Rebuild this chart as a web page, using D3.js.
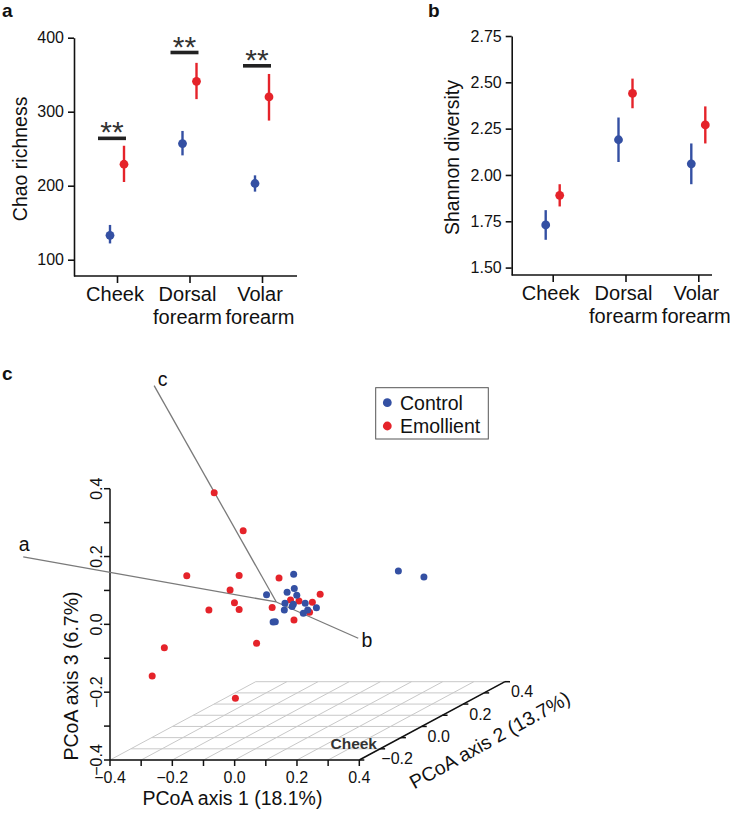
<!DOCTYPE html>
<html lang="en">
<head>
<meta charset="UTF-8">
<title>Emollient and skin bacterial diversity</title>
<script src="https://d3js.org/d3.v7.min.js"></script>
<style>
  body { margin: 0; padding: 0; background: #fff; }
  svg { display: block; font-family: "Liberation Sans", Arial, Helvetica, sans-serif; }
  .axis path, .axis line { stroke: #111; stroke-width: 1.6px; }
  .axis text { font-size: 16px; fill: #111; }
  .tk { font-size: 16px; fill: #111; }
  .cat { font-size: 20px; fill: #111; }
  .title { font-size: 19.5px; fill: #111; }
  .panel { font-size: 19px; font-weight: bold; fill: #111; }
  .grid { stroke: #c8c8c8; stroke-width: 1px; }
  .ax3 { stroke: #111; stroke-width: 1.5px; }
  .arrow { stroke: #7a7a7a; stroke-width: 1.3px; }
</style>
</head>
<body>
<svg id="fig" width="737" height="813"></svg>
<script>
// ---- data ----
const sites = ["Cheek", "Dorsal forearm", "Volar forearm"];

const chaoControl = [133, 257, 203];
const chaoControlLo = [122, 241, 192];
const chaoControlHi = [147, 274, 214];
const chaoEmollient = [229, 341, 320];
const chaoEmollientLo = [205, 317, 288];
const chaoEmollientHi = [254, 366, 351];
const chaoSigAt = [264, 380, 362];
const chaoTicks = [100, 200, 300, 400];

const shannonControl = [1.73, 2.19, 2.06];
const shannonControlLo = [1.65, 2.07, 1.95];
const shannonControlHi = [1.81, 2.31, 2.17];
const shannonEmollient = [1.89, 2.44, 2.27];
const shannonEmollientLo = [1.83, 2.36, 2.17];
const shannonEmollientHi = [1.95, 2.52, 2.37];
const shannonTicks = [1.5, 1.75, 2.0, 2.25, 2.5, 2.75];

// PCoA coordinates [axis1, axis2, axis3]
const controlPCoA = [
  [0.325, 0, 0.058], [0.407, 0, 0.041], [-0.011, 0, 0.049], [-0.098, 0, -0.012],
  [-0.009, 0, 0.007], [-0.032, 0, -0.004], [-0.001, 0, -0.013], [-0.039, 0, -0.037],
  [-0.012, 0, -0.040], [0.026, 0, -0.037], [0.062, 0, -0.050], [-0.041, 0, -0.057],
  [0.034, 0, -0.057], [0.020, 0, -0.066], [-0.077, 0, -0.092], [-0.070, 0, -0.091],
  [-0.016, 0, -0.046]
];
const emollientPCoA = [
  [-0.266, 0, 0.289], [-0.173, 0, 0.177], [-0.354, 0, 0.044], [-0.186, 0, 0.045],
  [-0.058, 0, 0.038], [-0.215, 0, 0.002], [-0.201, 0, -0.035], [-0.283, 0, -0.057],
  [-0.186, 0, -0.055], [-0.080, 0, -0.049], [-0.010, 0, -0.086], [0.074, 0, -0.010],
  [0.049, 0, -0.034], [-0.021, 0, -0.027], [0.006, 0, -0.030], [0.040, 0, -0.063],
  [-0.130, 0, -0.155], [-0.426, 0, -0.168], [-0.465, 0, -0.251], [-0.198, 0, -0.317]
];
const arrowOrigin = [0, -0.1, 0];
const arrowNames = ["a", "b", "c"];
const arrowEnds = [[-0.812, -0.1, 0.133], [0.263, -0.1, -0.107], [-0.392, -0.1, 0.638]];

const xTicks3 = [-0.4, -0.3, -0.2, -0.1, 0, 0.1, 0.2, 0.3, 0.4];
const yTicks3 = [-0.3, -0.2, -0.1, 0, 0.1, 0.2, 0.3, 0.4];
const zTicks3 = [-0.4, -0.3, -0.2, -0.1, 0, 0.1, 0.2, 0.3, 0.4];
const labTicks3 = [-0.4, -0.2, 0, 0.2, 0.4];
const yLabTicks3 = [-0.2, 0, 0.2, 0.4];

const blue = "#3450a3", red = "#e5232a";

const svg = d3.select("#fig");

// ---- dot + error bar panel ----
function dotPanel(opt) {
  const g = svg.append("g");
  const y = d3.scaleLinear(opt.yDomain, [opt.bottom, opt.top]);
  const x = d3.scalePoint(sites, opt.xRange);

  g.append("g").attr("class", "axis")
    .attr("transform", `translate(${opt.left},0)`)
    .call(d3.axisLeft(y).tickValues(opt.ticks).tickSize(6).tickSizeOuter(0)
      .tickPadding(4).tickFormat(opt.fmt))
    .attr("font-size", null).attr("font-family", null);

  g.append("g").attr("class", "axis")
    .attr("transform", `translate(0,${opt.bottom})`)
    .call(d3.axisBottom(x).tickSize(7).tickFormat(""))
    .call(a => a.select(".domain").remove());

  g.append("line").attr("class", "ax3")
    .attr("x1", opt.left).attr("x2", opt.right)
    .attr("y1", opt.bottom).attr("y2", opt.bottom)
    .style("stroke-width", 1.6);

  const lab = g.append("g").selectAll("text").data(sites).join("text")
    .attr("class", "cat").attr("text-anchor", "middle")
    .attr("x", d => x(d) - 2).attr("y", opt.bottom + 25);
  lab.selectAll("tspan").data(d => d.split(" ")).join("tspan")
    .attr("x", function () { return d3.select(this.parentNode).attr("x"); })
    .attr("dy", (d, i) => i ? 23 : 0)
    .text(d => d);

  g.append("text").attr("class", "title").attr("text-anchor", "middle")
    .attr("transform", `translate(${opt.titleX},${(opt.top + opt.bottom) / 2 + 2}) rotate(-90)`)
    .text(opt.title);

  const series = [
    { v: opt.ctrl, lo: opt.ctrlLo, hi: opt.ctrlHi, c: blue, dx: -7 },
    { v: opt.emo, lo: opt.emoLo, hi: opt.emoHi, c: red, dx: 7 }
  ];
  series.forEach(s => {
    g.append("g").selectAll("line").data(sites).join("line")
      .attr("x1", d => x(d) + s.dx).attr("x2", d => x(d) + s.dx)
      .attr("y1", (d, i) => y(s.lo[i])).attr("y2", (d, i) => y(s.hi[i]))
      .attr("stroke", s.c).attr("stroke-width", 2.4);
    g.append("g").selectAll("circle").data(sites).join("circle")
      .attr("cx", d => x(d) + s.dx).attr("cy", (d, i) => y(s.v[i]))
      .attr("r", 4.4).attr("fill", s.c);
  });

  if (opt.sig) {
    const sg = g.append("g");
    sg.selectAll("line").data(sites).join("line")
      .attr("x1", d => x(d) - 19).attr("x2", d => x(d) + 9)
      .attr("y1", (d, i) => y(opt.sig[i])).attr("y2", (d, i) => y(opt.sig[i]))
      .attr("stroke", "#222").attr("stroke-width", 3.6);
    sg.selectAll("text").data(sites).join("text")
      .attr("x", d => x(d) - 5).attr("y", (d, i) => y(opt.sig[i]) + 4)
      .attr("text-anchor", "middle").attr("font-size", 30).attr("fill", "#333")
      .text("**");
  }

  g.append("text").attr("class", "panel").attr("x", opt.letterX).attr("y", 17).text(opt.letter);
}

dotPanel({
  letter: "a", letterX: 2, left: 74, right: 297, top: 37.7, bottom: 276,
  yDomain: [78, 400], xRange: [117, 262], ticks: chaoTicks, fmt: d3.format("d"),
  title: "Chao richness", titleX: 26.5,
  ctrl: chaoControl, ctrlLo: chaoControlLo, ctrlHi: chaoControlHi,
  emo: chaoEmollient, emoLo: chaoEmollientLo, emoHi: chaoEmollientHi,
  sig: chaoSigAt
});

dotPanel({
  letter: "b", letterX: 428, left: 511.7, right: 712, top: 36, bottom: 275,
  yDomain: [1.46, 2.75], xRange: [552.7, 698.3], ticks: shannonTicks, fmt: d3.format(".2f"),
  title: "Shannon diversity", titleX: 459,
  ctrl: shannonControl, ctrlLo: shannonControlLo, ctrlHi: shannonControlHi,
  emo: shannonEmollient, emoLo: shannonEmollientLo, emoHi: shannonEmollientHi
});

// ---- panel c: 3D PCoA ----
const gc = svg.append("g");
const px = d3.scaleLinear([-0.4, 0.4], [110, 359.3]);
const pz = d3.scaleLinear([-0.4, 0.4], [760, 488.7]);
const pd = d3.scaleLinear([-0.3, 0.4], [0, 1]);
const proj = (p) => [px(p[0]) + pd(p[1]) * 145.7, pz(p[2]) - pd(p[1]) * 78.3];
const seg = (sel, a, b) => {
  const A = proj(a), B = proj(b);
  return sel.attr("x1", A[0]).attr("y1", A[1]).attr("x2", B[0]).attr("y2", B[1]);
};

// floor grid
yTicks3.forEach(v => seg(gc.append("line").attr("class", "grid"), [-0.4, v, -0.4], [0.4, v, -0.4]));
xTicks3.forEach(v => seg(gc.append("line").attr("class", "grid"), [v, -0.3, -0.4], [v, 0.4, -0.4]));

// axes
seg(gc.append("line").attr("class", "ax3"), [-0.4, -0.3, -0.4], [0.4, -0.3, -0.4]);
seg(gc.append("line").attr("class", "ax3"), [0.4, -0.3, -0.4], [0.4, 0.4, -0.4]);
seg(gc.append("line").attr("class", "ax3"), [-0.4, -0.3, -0.4], [-0.4, -0.3, 0.4]);

const f1 = d3.format(".1f");
xTicks3.forEach(v => {
  const P = proj([v, -0.3, -0.4]);
  gc.append("line").attr("class", "ax3").attr("x1", P[0]).attr("x2", P[0]).attr("y1", P[1]).attr("y2", P[1] + 6);
});
labTicks3.forEach(v => {
  const P = proj([v, -0.3, -0.4]);
  gc.append("text").attr("class", "tk").attr("x", P[0]).attr("y", P[1] + 23)
    .attr("text-anchor", "middle").text(f1(v));
});
zTicks3.forEach(v => {
  const P = proj([-0.4, -0.3, v]);
  gc.append("line").attr("class", "ax3").attr("x1", P[0] - 6).attr("x2", P[0]).attr("y1", P[1]).attr("y2", P[1]);
});
labTicks3.forEach(v => {
  const P = proj([-0.4, -0.3, v]);
  gc.append("text").attr("class", "tk").attr("text-anchor", "middle")
    .attr("transform", `translate(${P[0] - 8.5},${P[1]}) rotate(-90)`).text(f1(v));
});
yTicks3.forEach(v => {
  const P = proj([0.4, v, -0.4]);
  gc.append("line").attr("class", "ax3").attr("x1", P[0]).attr("x2", P[0] + 5).attr("y1", P[1]).attr("y2", P[1]);
});
yLabTicks3.forEach(v => {
  const P = proj([0.4, v, -0.4]);
  gc.append("text").attr("class", "tk").attr("x", P[0] + 17).attr("y", P[1] + 15.5)
    .attr("text-anchor", "middle").text(f1(v));
});

// axis titles
gc.append("text").attr("class", "title").attr("text-anchor", "middle")
  .attr("x", 232.5).attr("y", 805).text("PCoA axis 1 (18.1%)");
gc.append("text").attr("class", "title").attr("text-anchor", "middle")
  .attr("transform", "translate(78,676) rotate(-90)").text("PCoA axis 3 (6.7%)");
gc.append("text").attr("class", "title").attr("text-anchor", "middle")
  .attr("transform", "translate(493,746) rotate(-29)").text("PCoA axis 2 (13.7%)");
gc.append("text").attr("text-anchor", "end").attr("x", 377).attr("y", 749)
  .style("font-size", "15.5px").style("font-weight", "bold").attr("fill", "#333").text("Cheek");

// arrows
const arrowLabelOff = [[1, -6], [8.7, 9], [8.5, 0]];
arrowEnds.forEach((e, i) => {
  seg(gc.append("line").attr("class", "arrow"), arrowOrigin, e);
  const P = proj(e);
  gc.append("text").attr("class", "title").attr("fill", "#333").attr("text-anchor", "middle")
    .attr("x", P[0] + arrowLabelOff[i][0]).attr("y", P[1] + arrowLabelOff[i][1]).text(arrowNames[i]);
});

// points
[[emollientPCoA, red], [controlPCoA, blue]].forEach(([pts, c]) => {
  gc.append("g").selectAll("circle").data(pts).join("circle")
    .attr("cx", d => proj(d)[0]).attr("cy", d => proj(d)[1])
    .attr("r", 3.5).attr("fill", c);
});

// legend
const lg = gc.append("g").attr("transform", "translate(375.7,387.7)");
lg.append("rect").attr("width", 112.6).attr("height", 51.3)
  .attr("fill", "#fff").attr("stroke", "#555").attr("stroke-width", 1);
[["Control", blue], ["Emollient", red]].forEach(([n, c], i) => {
  lg.append("circle").attr("cx", 11.6).attr("cy", 15 + i * 23.3).attr("r", 4.4).attr("fill", c);
  lg.append("text").attr("class", "title").attr("x", 24.3).attr("y", 15 + i * 23.3 + 7).text(n);
});

gc.append("text").attr("class", "panel").attr("x", 2).attr("y", 380).text("c");
</script>
</body>
</html>
